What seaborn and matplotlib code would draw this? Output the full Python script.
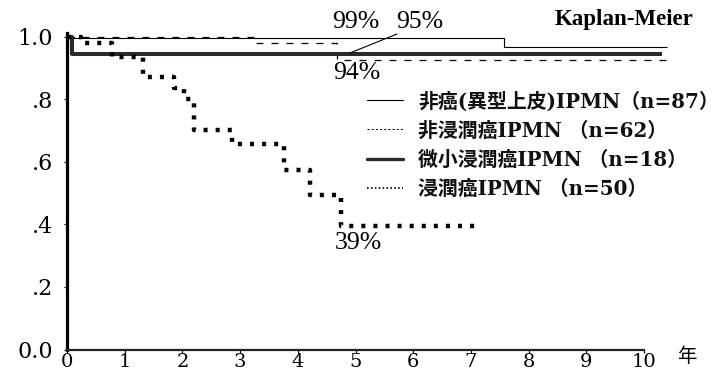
import matplotlib
matplotlib.use('Agg')
import matplotlib.pyplot as plt
import seaborn as sns
import pandas as pd
from matplotlib.lines import Line2D

# ---------------- data ----------------
labels = ['非癌(異型上皮)IPMN（n=87）', '非浸潤癌IPMN （n=62）',
          '微小浸潤癌IPMN （n=18）', '浸潤癌IPMN （n=50）']

t_noncancer = [0, 0.12, 7.57, 10.4]
s_noncancer = [1.0, 0.994, 0.966, 0.966]

t_noninv = [0, 3.26, 4.68, 10.4]
s_noninv = [1.0, 0.978, 0.926, 0.926]

t_micro = [0, 0.09, 10.31]
s_micro = [1.0, 0.945, 0.945]

t_inv = [0, 0.25, 0.78, 1.32, 1.86, 2.02, 2.2, 2.86, 3.76, 4.21, 4.75, 7.2]
s_inv = [1.0, 0.98, 0.935, 0.87, 0.835, 0.80, 0.70, 0.655, 0.572, 0.493, 0.394, 0.394]

xticks = list(range(0, 11))
xticklabels = [str(v) for v in xticks]
yticks = [0.0, 0.2, 0.4, 0.6, 0.8, 1.0]
yticklabels = ['0.0', '.2', '.4', '.6', '.8', '1.0']

pct_labels = ['99%', '95%', '94%', '39%']

# ---------------- style ----------------
sns.set_theme(style='white')
plt.rcParams['font.family'] = ['Noto Sans CJK JP', 'DejaVu Sans']
plt.rcParams['lines.scale_dashes'] = False

W, H = 724, 376
fig = plt.figure(figsize=(W / 100, H / 100), dpi=100)
fig.patch.set_facecolor('white')

x0_px, x10_px = 67, 644
ppu = (x10_px - x0_px) / 10.0
y0_px, y1_px = 349.5, 36.5
ppv = y0_px - y1_px
xmax, ymax = 10.6, 1.01
ax = fig.add_axes([x0_px / W, (H - y0_px) / H, xmax * ppu / W, ymax * ppv / H])
ax.set_facecolor('white')

def draw(t, s, color, lw, dashes=None, cap='butt'):
    df = pd.DataFrame({'time': t, 'surv': s})
    sns.lineplot(data=df, x='time', y='surv', ax=ax, estimator=None, sort=False,
                 drawstyle='steps-post', color=color, linewidth=lw)
    ln = ax.lines[-1]
    if dashes is not None:
        ln.set_dashes(dashes)
    ln.set_dash_capstyle(cap)
    ln.set_solid_capstyle('butt')
    return ln

draw(t_noncancer, s_noncancer, 'black', 0.8)
draw(t_noninv, s_noninv, 'black', 0.9, dashes=(5.0, 5.8))
draw(t_micro, s_micro, '#2a2a2a', 2.9)
draw(t_inv, s_inv, 'black', 3.2, dashes=(2.9, 5.8))

ax.set_xlim(0, xmax)
ax.set_ylim(0, ymax)
ax.set_xlabel('')
ax.set_ylabel('')

for side in ['top', 'right']:
    ax.spines[side].set_visible(False)
ax.spines['left'].set_linewidth(2.3)
ax.spines['left'].set_color('black')
ax.spines['bottom'].set_linewidth(1.6)
ax.spines['bottom'].set_color('#222222')
ax.spines['bottom'].set_bounds(0, 10)

ax.set_xticks(xticks)
ax.set_xticklabels(xticklabels, fontfamily='DejaVu Serif', fontsize=14)
ax.set_yticks(yticks)
ax.set_yticklabels(yticklabels, fontfamily='DejaVu Serif', fontsize=16)
ax.tick_params(axis='both', bottom=True, left=True, direction='out',
               length=2, width=0.8, color='black', labelcolor='black')
ax.tick_params(axis='x', pad=0.5)
ax.tick_params(axis='y', pad=8)

# percentage annotations
def px2data(px, py):
    return (px - x0_px) / ppu, (y0_px - py) / ppv

serif = 'Liberation Serif'
pfs = 18.5
for txt, (px, py) in zip(pct_labels, [(356, 22), (420, 22), (357, 73), (358, 243)]):
    dx, dy = px2data(px, py)
    ax.text(dx, dy, txt, fontfamily=serif, fontsize=pfs, ha='center', va='center',
            color='black', clip_on=False)
lx0, ly0 = px2data(397, 34)
lx1, ly1 = px2data(350, 53)
ax.plot([lx0, lx1], [ly0, ly1], color='black', linewidth=0.8, clip_on=False)

# legend
handles = [Line2D([], [], color='black', linewidth=0.8),
           Line2D([], [], color='black', linewidth=0.7, dashes=(1.5, 1.5)),
           Line2D([], [], color='#2a2a2a', linewidth=2.4),
           Line2D([], [], color='black', linewidth=1.2, dashes=(1.2, 1.6))]
for h in handles:
    h.set_dash_capstyle('butt')
leg = ax.legend(handles, labels, loc='upper left', frameon=False,
                bbox_to_anchor=(367 / W, 1 - 91 / H), bbox_transform=fig.transFigure,
                borderpad=0, borderaxespad=0, handlelength=1.8, handletextpad=0.78,
                labelspacing=0.46, prop={'family': ['DejaVu Serif', 'Noto Sans CJK JP'],
                                         'weight': 'bold', 'size': 14.3})
for t in leg.get_texts():
    t.set_color('#111111')

fig.text(624.5 / W, 1 - 20 / H, 'Kaplan-Meier', fontfamily=serif, fontweight='bold',
         fontsize=16.5, ha='center', va='center', color='black')
fig.text(687 / W, 1 - 357 / H, '年', fontfamily=['Noto Sans CJK JP', 'DejaVu Sans'],
         fontsize=14, ha='center', va='center', color='black')

fig.savefig('out.png', dpi=100, facecolor='white')
